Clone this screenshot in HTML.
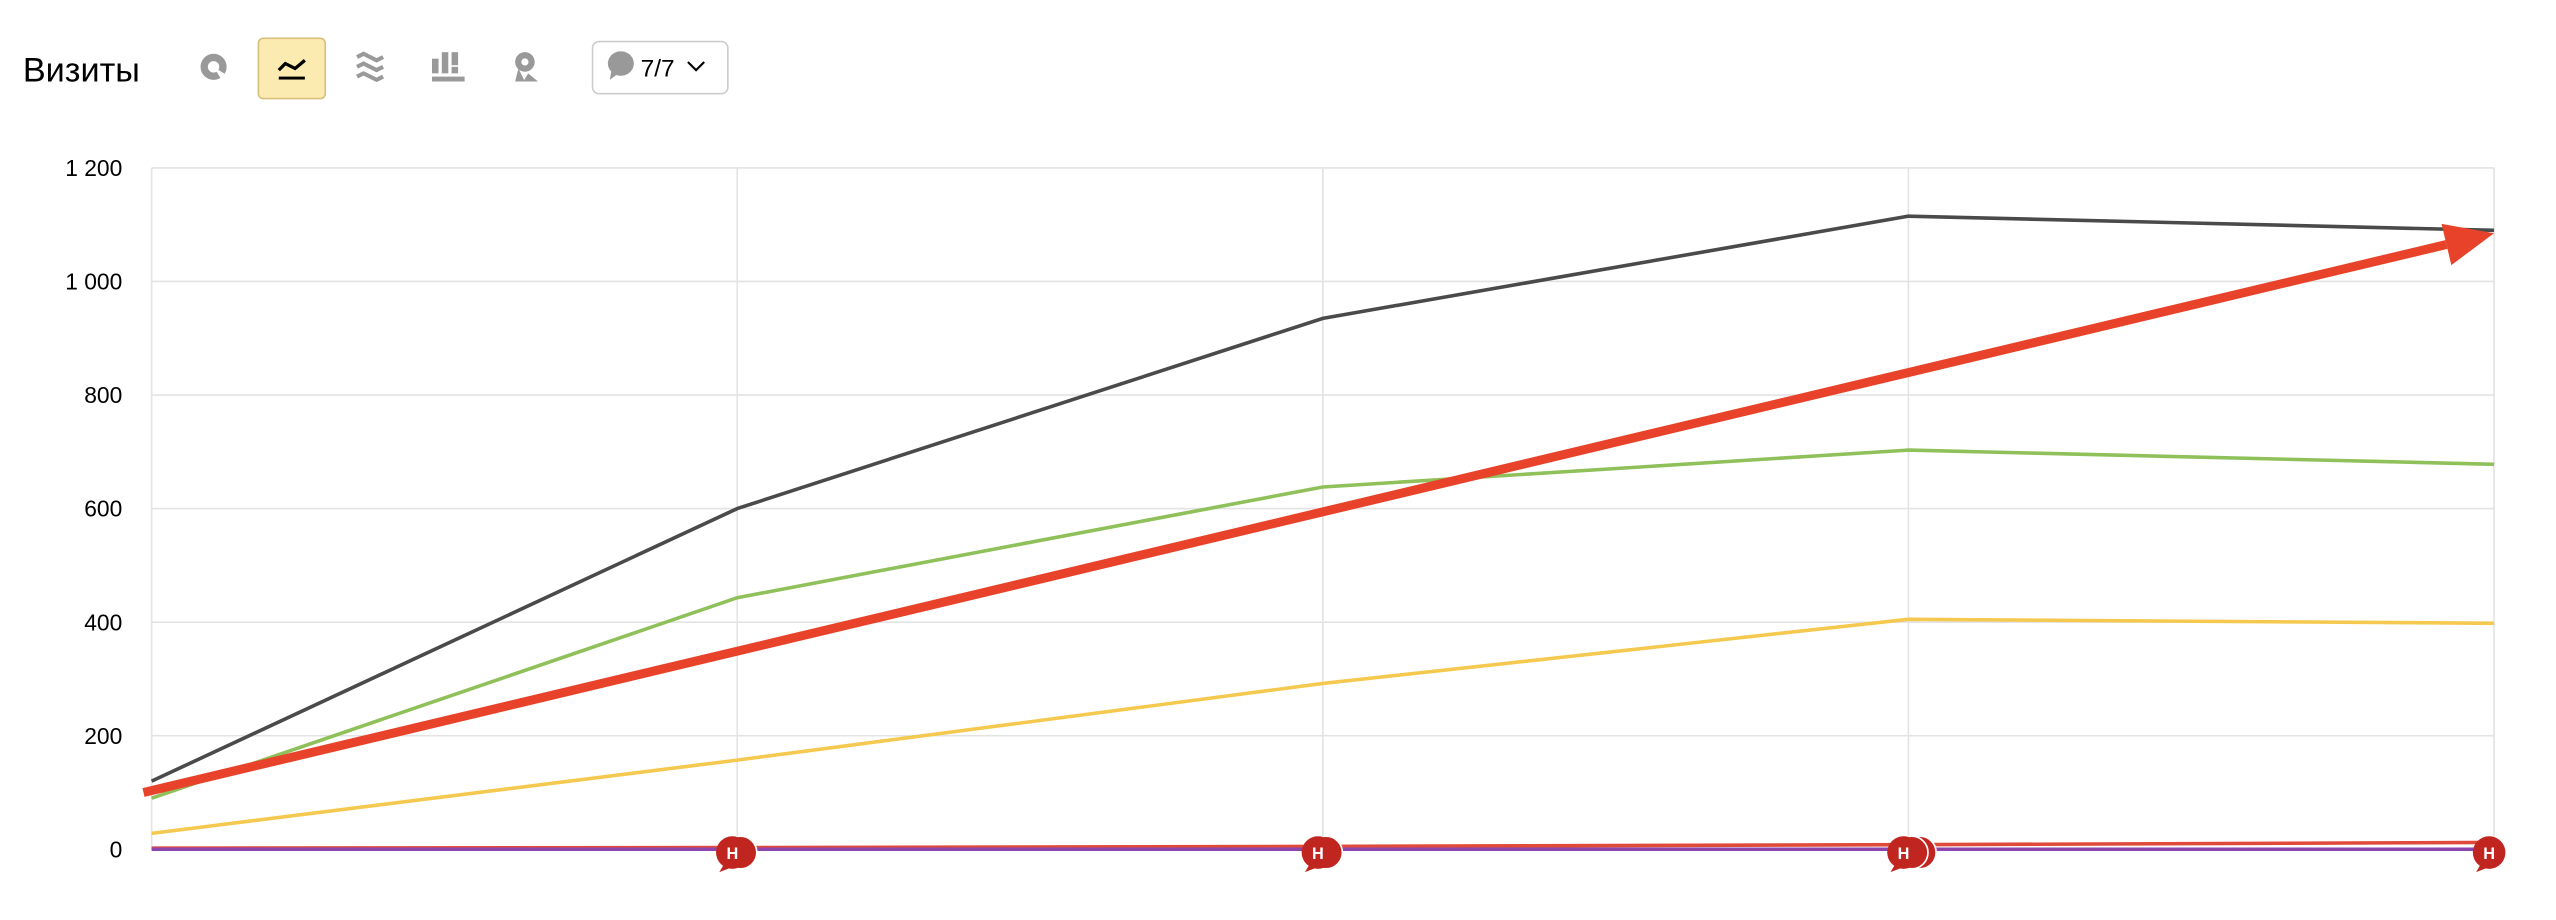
<!DOCTYPE html>
<html><head><meta charset="utf-8">
<style>
html,body{margin:0;padding:0;background:#fff;}
svg{display:block;font-family:"Liberation Sans","Noto Sans CJK SC",sans-serif;}
</style></head>
<body>
<svg id="chart" width="2556" height="920" viewBox="0 0 1568 564.4" xmlns="http://www.w3.org/2000/svg">
  <text x="14" y="50" font-size="21" fill="#000">Визиты</text>
  <g fill="#999">
    <circle cx="131" cy="41" r="8"/><circle cx="131" cy="41" r="3.5" fill="#fff"/><path d="M131 41 L139 46 L136 49Z" fill="#fff"/>
  </g>
  <rect x="158.5" y="23.5" width="41" height="37" rx="3" fill="#fcebb0" stroke="#d6c07c"/>
  <path d="M171 43 L175 39 L181 42 L187 37" fill="none" stroke="#000" stroke-width="2"/>
  <rect x="171" y="47" width="16" height="1.8" fill="#000"/>
  <g fill="none" stroke="#999" stroke-width="2.5">
    <path d="M219 35 L223 33 L231 37 L235 35"/><path d="M219 41 L223 39 L231 43 L235 41"/><path d="M219 47 L223 45 L231 49 L235 47"/>
  </g>
  <g fill="#999">
    <rect x="265" y="36" width="4" height="9"/><rect x="271" y="32" width="4" height="13"/><rect x="277" y="32" width="4" height="8"/><rect x="277" y="41" width="4" height="4"/><rect x="265" y="47" width="20" height="3"/>
  </g>
  <g fill="#999">
    <circle cx="322" cy="38" r="6"/><circle cx="322" cy="38" r="2.2" fill="#fff"/><path d="M318 42 L322 50 L316 50Z"/><path d="M324 45 L330 50 L321 50Z"/>
  </g>
  <g>
    <rect x="363.5" y="25.5" width="83" height="32" rx="4" fill="#fff" stroke="#ccc"/>
    <path d="M376 33 a8 7.5 0 1 1 2 13 l-4 3 l1 -5 a8 7.5 0 0 1 1 -11z" fill="#999"/>
    <text x="393" y="47" font-size="15" fill="#000">7/7</text>
    <path d="M422 38 L427 43 L432 38" fill="none" stroke="#000" stroke-width="1.3"/>
  </g>
  <g id="grid"></g>
  <g id="ylabels"></g>
  <g id="series"></g>
  <g id="arrow"></g>
  <g id="markers"></g>
</svg>
<script>
const categories = ["d1","d2","d3","d4","d5"];
const yTicks = [0,200,400,600,800,1000,1200];
const yTickLabels = ["0","200","400","600","800","1 000","1 200"];
const seriesBlack = [120,600,935,1115,1090];
const seriesGreen = [90,443,638,703,678];
const seriesYellow = [28,157,292,405,398];
const seriesRed = [2,3,5,8,12];
const seriesPurple = [0,0,0,0,0];
const arrowValues = [100,1085];
const markerCounts = [0,2,2,3,1];

const NS="http://www.w3.org/2000/svg";
const L=93,R=1530,T=103,B=521,YMAX=1200;
const xs=i=>L+(R-L)*i/(categories.length-1);
const ys=v=>B-(B-T)*v/YMAX;
function mk(tag,attrs,parent){const e=document.createElementNS(NS,tag);for(const k in attrs)e.setAttribute(k,attrs[k]);parent.appendChild(e);return e;}
const grid=document.getElementById('grid'),yl=document.getElementById('ylabels');
yTicks.forEach((t,i)=>{
  const l=mk('line',{x1:L,x2:R,y1:ys(t),y2:ys(t),stroke:'#e3e3e3','stroke-width':1},grid);
  
  
  const tx=mk('text',{x:75,y:ys(t)+5,'font-size':14,'text-anchor':'end',fill:'#000'},yl);
  tx.textContent=yTickLabels[i];
  
  
});
categories.forEach((c,i)=>{
  const l=mk('line',{x1:xs(i),x2:xs(i),y1:T,y2:B,stroke:'#e3e3e3','stroke-width':1},grid);
  
  
});
const sg=document.getElementById('series');
[[seriesRed,'#e04a3a','series-red'],[seriesPurple,'#8e44ad','series-purple'],[seriesYellow,'#f5c94f','series-yellow'],[seriesGreen,'#8fc05a','series-green'],[seriesBlack,'#4a4a4a','series-black']].forEach(([d,col,name])=>{
  const p=mk('polyline',{points:d.map((v,i)=>xs(i)+','+ys(v)).join(' '),fill:'none',stroke:col,'stroke-width':2.2},sg);
  
  
});
const ag=document.getElementById('arrow');
const x0=88,y0=ys(arrowValues[0]),x1=R,y1=ys(arrowValues[1]);
const ang=Math.atan2(y1-y0,x1-x0),hl=30,hw=13;
const bx=x1-hl*Math.cos(ang),by=y1-hl*Math.sin(ang);
const al=mk('line',{x1:x0,y1:y0,x2:bx,y2:by,stroke:'#e8432a','stroke-width':5.5},ag);


const ah=mk('polygon',{points:`${x1},${y1} ${bx+hw*Math.sin(ang)},${by-hw*Math.cos(ang)} ${bx-hw*Math.sin(ang)},${by+hw*Math.cos(ang)}`,fill:'#e8432a'},ag);


const mg=document.getElementById('markers');
markerCounts.forEach((n,i)=>{
  for(let k=n-1;k>=0;k--){
    const g=mk('g',{},mg);
    
    
    const cx=xs(i)-3+k*5,cy=523;
    mk('circle',{cx:cx,cy:cy,r:10,fill:'#c0261f',stroke:'#fff','stroke-width':k?1:0},g);
    if(k===0){
      mk('path',{d:`M${cx-5} ${cy+7} L${cx-8} ${cy+12} L${cx} ${cy+9}Z`,fill:'#c0261f'},g);
      const t=mk('text',{x:cx,y:cy+4,'font-size':10,'font-weight':'bold','text-anchor':'middle',fill:'#fff'},g);
      t.textContent='Н';
    }
  }
});
</script>
</body></html>
